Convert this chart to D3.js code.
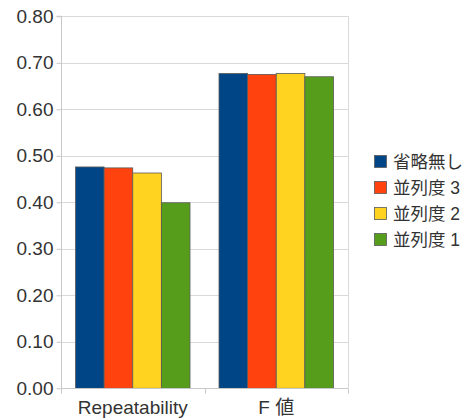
<!DOCTYPE html>
<html>
<head>
<meta charset="utf-8">
<script src="https://cdn.jsdelivr.net/npm/d3@7"></script>
<style>
  html, body { margin: 0; padding: 0; background: #fff; }
  svg { display: block; }
  text { font-family: "Liberation Sans", Arial, "Noto Sans CJK JP", sans-serif; fill: #333; }
</style>
</head>
<body>
<svg id="chart" width="472" height="418"></svg>
<script>
// Categories and series
const categories = ["Repeatability", "F 値"];
const seriesNames = ["省略無し", "並列度 3", "並列度 2", "並列度 1"];
const seriesColors = ["#004586", "#ff420e", "#ffd320", "#579d1c"];

// Values per series, one entry per category
const valuesNone = [0.476, 0.677];
const valuesPar3 = [0.474, 0.675];
const valuesPar2 = [0.463, 0.677];
const valuesPar1 = [0.399, 0.670];

const yTicks = [0, 0.1, 0.2, 0.3, 0.4, 0.5, 0.6, 0.7, 0.8];

const seriesValues = [valuesNone, valuesPar3, valuesPar2, valuesPar1];

const svg = d3.select("#chart");
const plot = { left: 61, right: 348, top: 16.3, bottom: 388.3 };

const y = d3.scaleLinear().domain([0, 0.8]).range([plot.bottom, plot.top]);
const x0 = d3.scaleBand().domain(categories).range([plot.left, plot.right]).padding(0);
const groupPad = 14.5;
const x1 = d3.scaleBand().domain(seriesNames)
  .range([groupPad, x0.bandwidth() - groupPad]).padding(0);

// Horizontal gridlines
svg.append("g")
  .selectAll("line")
  .data(yTicks)
  .join("line")
  .attr("x1", plot.left).attr("x2", plot.right)
  .attr("y1", d => Math.round(y(d)) + 0.5).attr("y2", d => Math.round(y(d)) + 0.5)
  .attr("stroke", "#d9d9d9").attr("stroke-width", 1);

// Right border of plot area
svg.append("line")
  .attr("x1", plot.right + 0.5).attr("x2", plot.right + 0.5)
  .attr("y1", plot.top).attr("y2", plot.bottom)
  .attr("stroke", "#d9d9d9");

// Bars
const groups = svg.append("g")
  .selectAll("g")
  .data(categories)
  .join("g")
  .attr("transform", d => `translate(${x0(d)},0)`);

groups.selectAll("rect")
  .data((c, ci) => seriesNames.map((s, si) => ({ s, si, v: seriesValues[si][ci] })))
  .join("rect")
  .attr("x", d => x1(d.s))
  .attr("y", d => y(d.v))
  .attr("width", x1.bandwidth())
  .attr("height", d => y(0) - y(d.v))
  .attr("fill", d => seriesColors[d.si])
  .attr("stroke", "#5a5a5a")
  .attr("stroke-width", 0.8);

// Y axis
const yAxis = svg.append("g")
  .attr("transform", `translate(${plot.left + 0.5},0)`)
  .call(d3.axisLeft(y).tickValues(yTicks).tickFormat(d3.format(".2f")).tickSize(5).tickPadding(3));
yAxis.select(".domain").attr("stroke", "#c8c8c8").attr("d", `M-5,${plot.top}H0V${plot.bottom}`);
yAxis.selectAll(".tick line").attr("stroke", "#c8c8c8");
yAxis.selectAll(".tick text").attr("font-size", 19).attr("fill", "#333");

// X axis
const xAxis = svg.append("g")
  .attr("transform", `translate(0,${Math.round(plot.bottom) + 0.5})`);
xAxis.append("line")
  .attr("x1", plot.left).attr("x2", plot.right)
  .attr("stroke", "#c8c8c8");
xAxis.selectAll("line.sep")
  .data([plot.left, ...categories.map(c => x0(c) + x0.bandwidth())])
  .join("line")
  .attr("class", "sep")
  .attr("x1", d => Math.round(d) + 0.5).attr("x2", d => Math.round(d) + 0.5)
  .attr("y1", 0).attr("y2", 5)
  .attr("stroke", "#c8c8c8");
xAxis.selectAll("text")
  .data(categories)
  .join("text")
  .attr("x", d => x0(d) + x0.bandwidth() / 2)
  .attr("y", 25)
  .attr("text-anchor", "middle")
  .attr("font-size", 19)
  .text(d => d);

// Legend
const legend = svg.append("g").attr("transform", "translate(374,0)");
const rowY = [161.5, 187.5, 213.5, 239.5];
const items = legend.selectAll("g")
  .data(seriesNames)
  .join("g")
  .attr("transform", (d, i) => `translate(0,${rowY[i]})`);
items.append("rect")
  .attr("x", 0.5).attr("y", -6)
  .attr("width", 12).attr("height", 12)
  .attr("fill", (d, i) => seriesColors[i])
  .attr("stroke", "#5a5a5a").attr("stroke-width", 0.8);
items.append("text")
  .attr("x", 19).attr("y", 0).attr("dy", "0.36em")
  .attr("font-size", 17.5)
  .text(d => d);
</script>
</body>
</html>
